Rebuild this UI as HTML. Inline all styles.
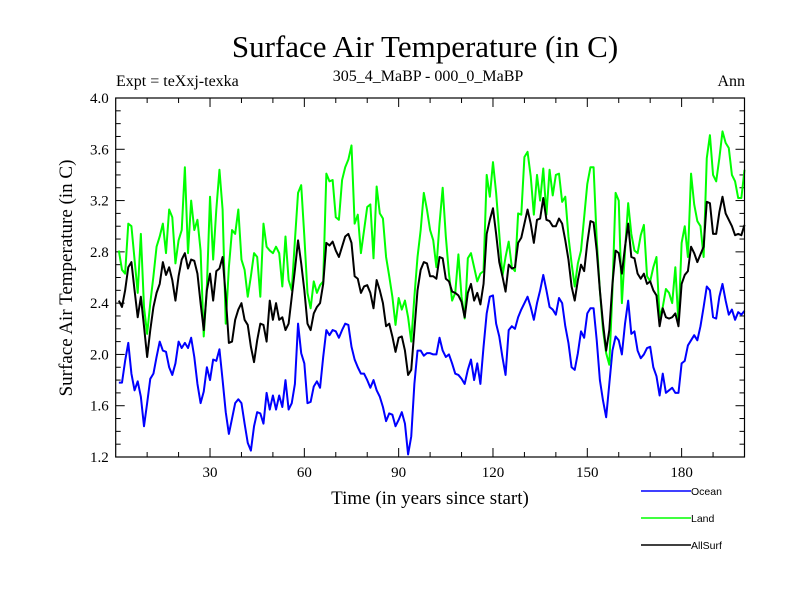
<!DOCTYPE html>
<html><head><meta charset="utf-8">
<style>
html,body{margin:0;padding:0;background:#fff;}
svg{display:block;}
.serif{font-family:"Liberation Serif",serif;}
.sans{font-family:"Liberation Sans",sans-serif;}
</style></head>
<body>
<svg id="chart" width="800" height="600" viewBox="0 0 800 600" xmlns="http://www.w3.org/2000/svg">
<rect width="800" height="600" fill="#fff"/>
<text class="serif" x="425" y="57" font-size="31" text-anchor="middle">Surface Air Temperature (in C)</text>
<text class="serif" x="116" y="86" font-size="16">Expt = teXxj-texka</text>
<text class="serif" x="428" y="81" font-size="16" text-anchor="middle">305_4_MaBP - 000_0_MaBP</text>
<text class="serif" x="745" y="86" font-size="16" text-anchor="end">Ann</text>
<text class="serif" x="430" y="504" font-size="19" text-anchor="middle">Time (in years since start)</text>
<text class="serif" transform="translate(72,278) rotate(-90)" font-size="19" text-anchor="middle">Surface Air Temperature (in C)</text>
<g id="ticks"></g>
<g id="series"></g>
<rect x="115.7" y="98" width="628.8" height="359" fill="none" stroke="#000" stroke-width="1.2"/>
<g id="legend"></g>
</svg>
<script>
const years = Array.from({length:200},(_,i)=>i+1);
const ocean = [1.78,1.78,1.95,2.09,1.85,1.72,1.79,1.67,1.44,1.62,1.81,1.85,1.98,2.10,2.03,2.02,1.90,1.84,1.93,2.10,2.05,2.09,2.05,2.13,1.98,1.77,1.62,1.71,1.90,1.80,1.96,1.95,2.04,1.80,1.55,1.38,1.50,1.62,1.65,1.62,1.46,1.31,1.25,1.44,1.55,1.54,1.46,1.70,1.57,1.68,
1.57,1.68,1.59,1.80,1.57,1.62,1.77,2.24,2.01,1.93,1.62,1.63,1.75,1.79,1.74,1.98,2.19,2.15,2.19,2.18,2.13,2.19,2.24,2.23,2.06,1.96,1.90,1.85,1.85,1.80,1.74,1.80,1.72,1.67,1.59,1.48,1.54,1.53,1.44,1.49,1.55,1.46,1.22,1.36,1.77,2.03,2.03,1.99,2.01,2.01,
2.00,2.00,2.13,2.03,1.98,2.00,1.93,1.85,1.84,1.81,1.77,1.88,1.96,1.80,1.93,1.77,2.06,2.32,2.45,2.46,2.24,2.14,1.98,1.84,2.19,2.22,2.20,2.29,2.35,2.40,2.45,2.37,2.27,2.40,2.50,2.62,2.50,2.37,2.35,2.31,2.44,2.40,2.22,2.09,1.90,1.88,2.01,2.18,2.13,2.32,2.36,
2.36,2.11,1.80,1.64,1.51,1.77,2.03,2.14,2.11,2.00,2.24,2.42,2.16,2.18,2.03,1.97,2.00,2.05,2.06,1.90,1.83,1.68,1.85,1.70,1.72,1.74,1.70,1.70,1.93,1.95,2.07,2.11,2.15,2.11,2.22,2.37,2.53,2.50,2.29,2.28,2.45,2.55,2.42,2.31,2.35,2.27,2.33,2.31,2.34];
const land = [2.81,2.66,2.63,3.02,3.00,2.74,2.48,2.94,2.37,2.16,2.40,2.61,2.84,2.92,3.02,2.79,3.13,3.07,2.71,2.89,2.97,3.46,2.79,3.20,2.97,3.05,2.81,2.14,2.53,3.23,2.74,3.13,3.44,3.13,2.24,2.68,2.97,2.94,3.13,2.74,2.66,2.45,2.61,2.79,2.76,2.45,3.02,2.84,2.81,2.79,
2.84,2.79,2.53,2.92,2.58,2.50,2.89,3.26,3.32,2.92,2.48,2.36,2.57,2.48,2.54,2.57,3.41,3.35,3.36,3.07,3.05,3.36,3.46,3.52,3.63,3.02,3.09,2.79,2.97,3.15,3.17,2.75,3.31,3.10,3.06,2.76,2.61,2.45,2.23,2.44,2.35,2.42,2.29,2.10,2.45,2.76,2.97,3.26,3.13,2.97,
2.89,2.68,3.02,3.30,2.92,2.63,2.42,2.48,2.78,2.45,2.28,2.75,2.79,2.68,2.57,2.63,2.65,3.40,3.23,3.50,3.26,2.94,2.61,2.76,2.88,2.68,2.65,3.10,3.09,3.54,3.58,3.39,3.09,3.40,3.20,3.45,3.09,3.44,3.24,3.40,3.41,3.19,3.23,2.92,2.71,2.53,2.71,2.81,3.07,3.33,3.46,
3.46,2.89,2.50,2.19,2.01,1.92,2.50,3.26,3.20,2.40,2.81,3.18,2.94,2.81,2.79,2.93,3.01,2.61,2.57,2.68,2.76,2.29,2.37,2.51,2.48,2.40,2.68,2.24,2.87,3.00,2.76,3.41,3.17,3.04,3.00,2.76,3.53,3.71,3.40,3.35,3.53,3.74,3.65,3.61,3.40,3.35,3.22,3.22,3.44];
const allSurf = [2.42,2.37,2.50,2.68,2.72,2.50,2.29,2.45,2.22,1.98,2.19,2.37,2.48,2.55,2.72,2.62,2.68,2.58,2.42,2.61,2.74,2.79,2.67,2.74,2.73,2.63,2.40,2.19,2.50,2.63,2.42,2.65,2.67,2.76,2.45,2.09,2.10,2.27,2.35,2.40,2.27,2.23,2.06,1.94,2.11,2.24,2.23,2.10,2.42,2.27,
2.40,2.27,2.29,2.19,2.24,2.45,2.66,2.89,2.71,2.50,2.24,2.19,2.32,2.37,2.40,2.55,2.87,2.85,2.88,2.81,2.76,2.84,2.92,2.94,2.87,2.61,2.59,2.48,2.53,2.54,2.48,2.36,2.58,2.50,2.40,2.22,2.24,2.14,2.02,2.13,2.14,2.03,1.84,1.88,2.19,2.50,2.66,2.72,2.71,2.61,
2.61,2.59,2.76,2.75,2.59,2.57,2.49,2.48,2.46,2.41,2.29,2.48,2.55,2.42,2.48,2.39,2.55,2.94,3.05,3.14,2.94,2.72,2.61,2.49,2.70,2.67,2.68,2.87,2.91,3.02,3.13,3.02,2.87,3.05,3.06,3.22,3.05,3.04,3.00,3.00,3.06,3.02,2.89,2.74,2.53,2.42,2.58,2.70,2.65,2.87,3.04,
3.03,2.81,2.50,2.24,2.03,2.19,2.55,2.81,2.79,2.63,2.84,3.02,2.76,2.75,2.63,2.59,2.63,2.55,2.57,2.50,2.46,2.22,2.36,2.29,2.28,2.29,2.32,2.22,2.55,2.62,2.65,2.84,2.79,2.72,2.78,2.84,3.19,3.18,2.94,2.94,3.11,3.23,3.10,3.05,3.00,2.93,2.94,2.93,3.01];
const xTickLabels = [30,60,90,120,150,180];
const yTickLabels = ["1.2","1.6","2.0","2.4","2.8","3.2","3.6","4.0"];

const NS="http://www.w3.org/2000/svg";
const X0=115.7, X1=744.5, Y0=457, Y1=98;
const xMin=0, xMax=200, yMin=1.2, yMax=4.0;
function xs(v){return X0+(v-xMin)/(xMax-xMin)*(X1-X0);}
function ys(v){return Y0-(v-yMin)/(yMax-yMin)*(Y0-Y1);}
function mk(tag,attrs,parent){const e=document.createElementNS(NS,tag);for(const k in attrs)e.setAttribute(k,attrs[k]);parent.appendChild(e);return e;}

const tg=document.getElementById('ticks');
for(let t=10;t<200;t+=10){
  const major=t%30===0, L=major?9:5;
  const a=mk('line',{x1:xs(t),x2:xs(t),y1:Y0,y2:Y0-L,stroke:'#000','stroke-width':1},tg);
  
  
  const b=mk('line',{x1:xs(t),x2:xs(t),y1:Y1,y2:Y1+L,stroke:'#000','stroke-width':1},tg);
  
  
}
xTickLabels.forEach(t=>{
  const e=mk('text',{x:xs(t),y:Y0+20,'font-size':15,'text-anchor':'middle','class':'serif'},tg);
  e.textContent=t;
  
  
});
for(let i=1;i<28;i++){
  const v=yMin+i*0.1, major=i%4===0, L=major?9:5;
  const a=mk('line',{x1:X0,x2:X0+L,y1:ys(v),y2:ys(v),stroke:'#000','stroke-width':1},tg);
  
  
  const b=mk('line',{x1:X1,x2:X1-L,y1:ys(v),y2:ys(v),stroke:'#000','stroke-width':1},tg);
  
  
}
yTickLabels.forEach(s=>{
  const e=mk('text',{x:X0-7,y:ys(parseFloat(s))+5,'font-size':15,'text-anchor':'end','class':'serif'},tg);
  e.textContent=s;
  
  
});

const sg=document.getElementById('series');
function drawSeries(vals,color,name){
  const d=vals.map((v,i)=>(i?'L':'M')+xs(years[i]).toFixed(2)+' '+ys(v).toFixed(2)).join(' ');
  const p=mk('path',{d:d,fill:'none',stroke:color,'stroke-width':2,'stroke-linejoin':'round'},sg);
  
  
}
drawSeries(ocean,'#0000ff','ocean-line');
drawSeries(land,'#00ff00','land-line');
drawSeries(allSurf,'#000000','allsurf-line');

const lg=document.getElementById('legend');
[['Ocean','#0000ff',491],['Land','#00ff00',518],['AllSurf','#000000',545]].forEach(([n,c,y])=>{
  const g=mk('g',{},lg);
  
  
  mk('line',{x1:641,x2:691,y1:y,y2:y,stroke:c,'stroke-width':1.5},g);
  const t=mk('text',{x:691,y:y+4,'font-size':10.5,'class':'sans'},g);
  t.textContent=n;
});
</script>
</body></html>
